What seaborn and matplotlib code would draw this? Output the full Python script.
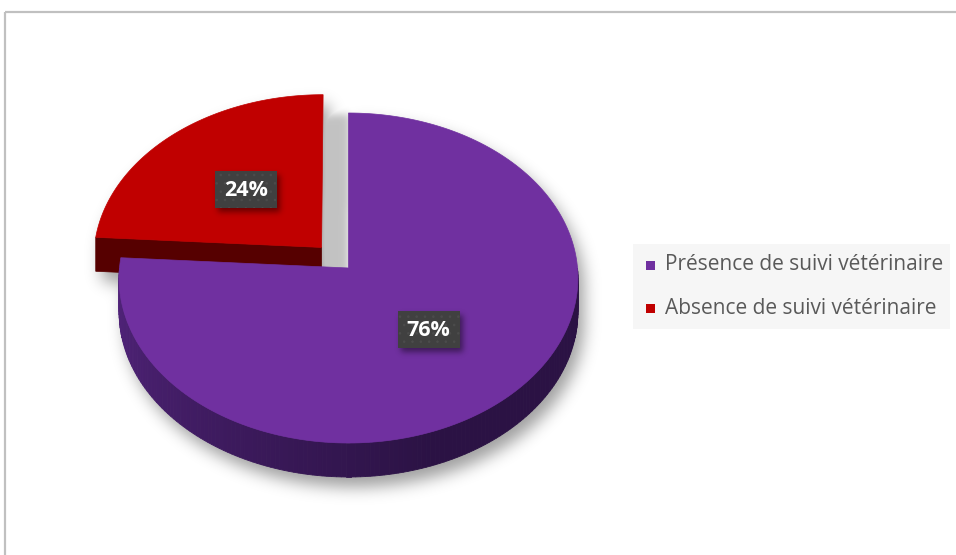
import numpy as np
import matplotlib
matplotlib.use("Agg")
import matplotlib.pyplot as plt
import seaborn as sns
from matplotlib.patches import Polygon, Rectangle
from matplotlib.path import Path
from matplotlib.colors import to_rgb

# ---- data ----
categories = ["Présence de suivi vétérinaire", "Absence de suivi vétérinaire"]
shares = [76, 24]
top_colors = ["#7030A0", "#C00000"]
wall_colors = [("#52247C", "#2B1244"), ("#560000", "#4A0000")]
explode = [0.0, 0.173]

sns.set_theme(style="white")
plt.rcParams["font.family"] = ["Open Sans", "DejaVu Sans"]

W, H = 956, 555
fig = plt.figure(figsize=(W / 100, H / 100), dpi=100)
ax = fig.add_axes([0, 0, 1, 1])
ax.set_xlim(0, W)
ax.set_ylim(H, 0)
ax.axis("off")

# 3-D pie geometry (screen pixels)
CX, CY = 348.5, 268.0
RX, RY = 229.0, 164.4
K = 0.0606          # mild perspective: back of the disc smaller than the front
DEPTH = 34


def project(u, w, drop=0.0):
    s = 1.0 / (1.0 + K * np.asarray(w))
    return CX + RX * np.asarray(u) * s, CY - RY * np.asarray(w) * s + drop


def mix(c1, c2, f):
    a, b = np.array(to_rgb(c1)), np.array(to_rgb(c2))
    return tuple(a + (b - a) * f)


# slice angles: start at 12 o'clock, clockwise
total = float(sum(shares))
bounds = []
start = 90.0
for v in shares:
    sweep = 360.0 * v / total
    bounds.append((start, start - sweep))
    start -= sweep

slices = []
for i, (t0, t1) in enumerate(bounds):
    mid = np.radians((t0 + t1) / 2)
    eu, ew = explode[i] * np.cos(mid), explode[i] * np.sin(mid)
    ts = np.radians(np.linspace(t0, t1, 200))
    ux, uy = eu + np.cos(ts), ew + np.sin(ts)
    top = np.column_stack([np.r_[eu, ux], np.r_[ew, uy]])
    slices.append(dict(t0=t0, t1=t1, eu=eu, ew=ew, mid=mid, top=top))


def to_screen(uv, drop=0.0):
    x, y = project(uv[:, 0], uv[:, 1], drop)
    return np.column_stack([x, y])


# ---- soft shadows (rasterised and blurred) ----
gx, gy = np.meshgrid(np.arange(W) + 0.5, np.arange(H) + 0.5)
pts = np.column_stack([gx.ravel(), gy.ravel()])


def mask_of(poly, dx, dy):
    p = Path(poly + np.array([dx, dy]))
    return p.contains_points(pts).reshape(H, W).astype(float)


def body_mask(sl, dx, dy):
    """Footprint of a slice's top face swept down through its thickness."""
    m = mask_of(to_screen(sl["top"]), dx, dy)
    out = m.copy()
    for s in range(1, DEPTH + 1):
        out[s:] = np.maximum(out[s:], m[:-s])
    return out


def blur(img, sigma):
    r = int(3 * sigma)
    x = np.arange(-r, r + 1)
    k = np.exp(-x ** 2 / (2 * sigma ** 2))
    k /= k.sum()
    img = np.apply_along_axis(lambda m: np.convolve(m, k, mode="same"), 0, img)
    img = np.apply_along_axis(lambda m: np.convolve(m, k, mode="same"), 1, img)
    return img


body = np.clip(body_mask(slices[0], 6, 10) + body_mask(slices[1], 6, 10), 0, 1)
shadow = blur(body, 8) * 0.38
cast = blur(body_mask(slices[1], 27, 19), 4) * 0.24
alpha = np.clip(np.maximum(shadow, cast), 0, 1)
rgba = np.zeros((H, W, 4))
rgba[..., 3] = alpha
ax.imshow(rgba, extent=(0, W, H, 0), zorder=1, interpolation="bilinear")


# ---- slices: detached slice first, then the main one ----
def draw_slice(i, z):
    sl = slices[i]
    wc0, wc1 = wall_colors[i]
    # radial faces turned toward the viewer
    for t, sign in ((sl["t0"], 1), (sl["t1"], -1)):
        tr = np.radians(t)
        if sign * np.cos(tr) < -1e-6:
            c = np.array([[sl["eu"], sl["ew"]], [sl["eu"] + np.cos(tr), sl["ew"] + np.sin(tr)]])
            a, b = to_screen(c), to_screen(c, DEPTH)
            ax.add_patch(Polygon(np.vstack([a, b[::-1]]), closed=True, fc=wc0, ec=wc0,
                                 lw=0.5, zorder=z))
    # outer wall on the front half
    lo, hi = min(sl["t0"], sl["t1"]), max(sl["t0"], sl["t1"])
    for k in range(-2, 2):
        a0, a1 = max(lo, -180 + 360 * k), min(hi, 360 * k)
        if a1 <= a0:
            continue
        ts = np.linspace(a0, a1, 160)
        for j in range(len(ts) - 1):
            ta, tb = np.radians(ts[j]), np.radians(ts[j + 1])
            uv = np.array([[sl["eu"] + np.cos(ta), sl["ew"] + np.sin(ta)],
                           [sl["eu"] + np.cos(tb), sl["ew"] + np.sin(tb)]])
            a, b = to_screen(uv), to_screen(uv, DEPTH)
            f = np.clip((ts[j] - (-180 + 360 * k)) / 110.0, 0, 1)
            col = mix(wc0, wc1, f)
            ax.add_patch(Polygon(np.vstack([a, b[::-1]]), closed=True, fc=col, ec=col,
                                 lw=0.6, zorder=z))
    ax.add_patch(Polygon(to_screen(sl["top"]), closed=True, fc=top_colors[i],
                         ec=top_colors[i], lw=0.5, zorder=z + 0.5))


draw_slice(1, 2)
draw_slice(0, 3)

# ---- value labels ----
BW, BH = 62, 37
lab_pos = []
for i, sl in enumerate(slices):
    u = sl["eu"] + 0.5 * np.cos(sl["mid"])
    w = sl["ew"] + 0.5 * np.sin(sl["mid"])
    x, y = project(u, w)
    lab_pos.append((float(x), float(y)))

lmask = np.zeros((H, W))
for x, y in lab_pos:
    box = np.array([[x - BW / 2, y - BH / 2], [x + BW / 2, y - BH / 2],
                    [x + BW / 2, y + BH / 2], [x - BW / 2, y + BH / 2]])
    lmask += mask_of(box, 3, 4)
lrgba = np.zeros((H, W, 4))
lrgba[..., 3] = np.clip(blur(lmask, 3) * 0.45, 0, 1)
ax.imshow(lrgba, extent=(0, W, H, 0), zorder=5, interpolation="bilinear")

plt.rcParams["hatch.linewidth"] = 0.6
for (x, y), v in zip(lab_pos, shares):
    ax.add_patch(Rectangle((x - BW / 2, y - BH / 2), BW, BH, fc="#404040", ec="#4C4C4C",
                           hatch="..", lw=0, zorder=6))
    ax.text(x, y + 1, f"{v}%", ha="center", va="center", color="white",
            fontsize=15.5, fontweight="bold", zorder=7)

# ---- legend ----
ax.add_patch(Rectangle((633, 244), 317, 85, fc="#F6F6F6", ec="none", zorder=4))
for j, (name, col) in enumerate(zip(categories, top_colors)):
    yy = 265 + 43 * j
    ax.add_patch(Rectangle((646, yy - 4), 9, 9, fc=col, ec="none", zorder=5))
    ax.text(665, yy, name, ha="left", va="center", color="#595959", fontsize=15, zorder=5)

# chart area border
ax.add_patch(Rectangle((5, 12), 1200, 1200, fc="none", ec="#C0C0C0", lw=1.6, zorder=8))

fig.savefig("out.png", dpi=100)
